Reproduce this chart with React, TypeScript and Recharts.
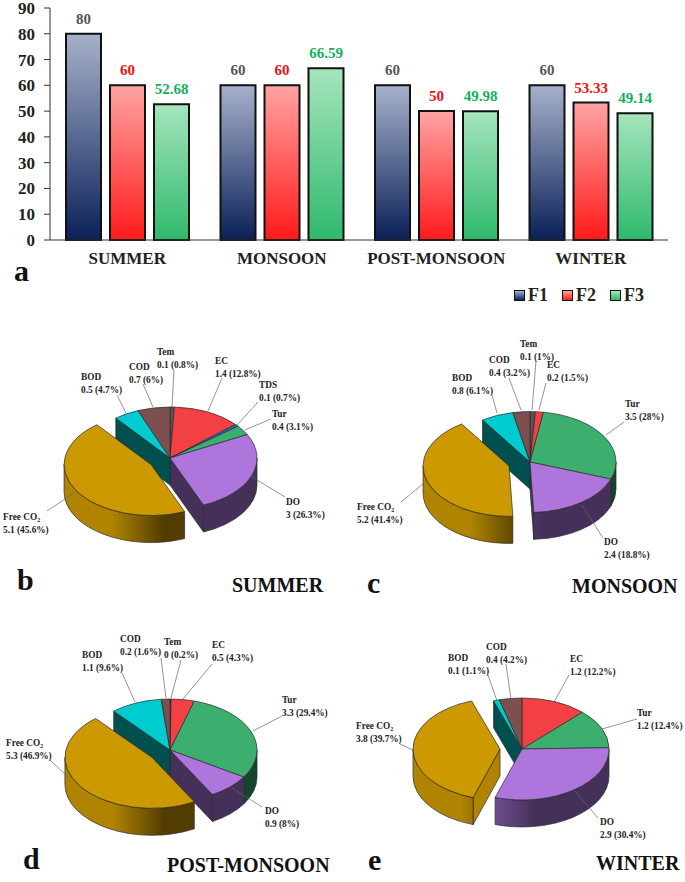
import React from 'react';
import { Bar, BarChart, LabelList, Legend, Pie, PieChart, XAxis, YAxis } from 'recharts';

const FONT = '"Liberation Serif", serif';

// panel a
const seasons = ['SUMMER', 'MONSOON', 'POST-MONSOON', 'WINTER'];
const f1Values = [80, 60, 60, 60];
const f2Values = [60, 60, 50, 53.33];
const f3Values = [52.68, 66.59, 49.98, 49.14];
const yTicks = [0, 10, 20, 30, 40, 50, 60, 70, 80, 90];

// panels b-e
const summerNames = ['Tem', 'EC', 'TDS', 'Tur', 'DO', 'Free CO2', 'BOD', 'COD'];
const summerAmounts = [0.1, 1.4, 0.1, 0.4, 3, 5.1, 0.5, 0.7];
const summerShares = [0.8, 12.8, 0.7, 3.1, 26.3, 45.6, 4.7, 6];

const monsoonNames = ['Tem', 'EC', 'Tur', 'DO', 'Free CO2', 'BOD', 'COD'];
const monsoonAmounts = [0.1, 0.2, 3.5, 2.4, 5.2, 0.8, 0.4];
const monsoonShares = [1, 1.5, 28, 18.8, 41.4, 6.1, 3.2];

const postNames = ['Tem', 'EC', 'Tur', 'DO', 'Free CO2', 'BOD', 'COD'];
const postAmounts = [0, 0.5, 3.3, 0.9, 5.3, 1.1, 0.2];
const postShares = [0.2, 4.3, 29.4, 8, 46.9, 9.6, 1.6];

const winterNames = ['EC', 'Tur', 'DO', 'Free CO2', 'BOD', 'COD'];
const winterAmounts = [1.2, 1.2, 2.9, 3.8, 0.1, 0.4];
const winterShares = [12.2, 12.4, 30.4, 39.7, 1.1, 4.2];

// text x, first baseline, leader x1, y1, x2, y2
const summerLabels = [
  [157, 355, 174, 370, 172, 407],
  [215, 364, 222, 378, 208, 411],
  [259, 388, 258, 402, 237, 425],
  [272, 417, 271, 419, 245, 430],
  [286, 505, 285, 497, 252, 477],
  [3, 520, 47, 511, 74, 493],
  [81, 380, 117, 395, 126, 413],
  [129, 370, 143, 384, 153, 407],
];
const monsoonLabels = [
  [520, 347, 536, 361, 532, 410],
  [547, 368, 546, 383, 539, 410],
  [625, 407, 624, 422, 606, 435],
  [604, 545, 603, 538, 582, 505],
  [357, 510, 401, 502, 423, 484],
  [452, 381, 492, 395, 497, 413],
  [489, 363, 509, 378, 521, 410],
];
const postLabels = [
  [164, 645, 181, 660, 171, 698],
  [212, 648, 212, 664, 183, 699],
  [282, 703, 282, 716, 253, 731],
  [265, 814, 262, 807, 232, 788],
  [6, 746, 50, 760, 68, 777],
  [82, 658, 122, 673, 135, 702],
  [120, 642, 161, 658, 166, 698],
];
const winterLabels = [
  [570, 662, 569, 675, 554, 702],
  [637, 716, 637, 719, 602, 729],
  [600, 825, 598, 818, 575, 791],
  [356, 729, 400, 744, 413, 750],
  [448, 661, 488, 675, 497, 701],
  [486, 650, 506, 664, 511, 699],
];

const TOP_COLORS: Record<string, string> = {
  Tem: '#555555',
  EC: '#f24044',
  TDS: '#1e6fd0',
  Tur: '#3cae6e',
  DO: '#ae76dc',
  'Free CO2': '#cc9900',
  BOD: '#00ccd0',
  COD: '#7d4f4f',
};
const WALL_LIGHT: Record<string, string> = {
  Tem: '#333333',
  EC: '#8a2224',
  TDS: '#0f3a70',
  Tur: '#13472c',
  DO: '#7a55a0',
  'Free CO2': '#b08400',
  BOD: '#005050',
  COD: '#4a2f2f',
};
const WALL_DARK: Record<string, string> = { ...WALL_LIGHT, DO: '#45305a', 'Free CO2': '#523c00' };
const SIDE_COLORS: Record<string, string> = { ...WALL_LIGHT, DO: '#45305a' };

const SQUASH = 0.586;
const DEPTH = 27;
const EXPLODE = 22;
const EXPLODED = 'Free CO2';

const rad = (deg: number) => (deg * Math.PI) / 180;

function rimPoint(x: number, y: number, r: number, deg: number) {
  return [x + r * Math.cos(rad(deg)), y - r * SQUASH * Math.sin(rad(deg))];
}

function apexOf(props: any) {
  const { cx, cy, startAngle, endAngle, payload } = props;
  if (payload.name !== EXPLODED) return [cx, cy];
  const mid = (startAngle + endAngle) / 2;
  return [cx + EXPLODE * Math.cos(rad(mid)), cy - EXPLODE * SQUASH * Math.sin(rad(mid))];
}

function sliceTop(props: any) {
  const { outerRadius: r, startAngle, endAngle, payload } = props;
  const [ax, ay] = apexOf(props);
  const [x0, y0] = rimPoint(ax, ay, r, startAngle);
  const [x1, y1] = rimPoint(ax, ay, r, endAngle);
  const large = startAngle - endAngle > 180 ? 1 : 0;
  return (
    <path
      d={`M${ax},${ay}L${x0},${y0}A${r},${r * SQUASH} 0 ${large} 1 ${x1},${y1}Z`}
      fill={TOP_COLORS[payload.name]}
      stroke="#2a2a2a"
      strokeWidth={0.7}
      strokeLinejoin="round"
    />
  );
}

function sliceWall(props: any) {
  const { outerRadius: r, startAngle, endAngle, payload } = props;
  const [ax, ay] = apexOf(props);
  const name = payload.name;
  const id = `wall-${payload.season}-${name.replace(' ', '')}`;
  const parts: React.ReactNode[] = [];

  // side faces only show next to the pulled-out slice
  const side = (deg: number) => {
    const [x, y] = rimPoint(ax, ay, r, deg);
    parts.push(
      <path
        key={`side${deg}`}
        d={`M${ax},${ay}L${x},${y}L${x},${y + DEPTH}L${ax},${ay + DEPTH}Z`}
        fill={SIDE_COLORS[name]}
        stroke="#2a2a2a"
        strokeWidth={0.7}
      />,
    );
  };
  const isOut = name === EXPLODED;
  if ((isOut || payload.afterExploded) && Math.cos(rad(startAngle)) < 0) side(startAngle);
  if ((isOut || payload.beforeExploded) && Math.cos(rad(endAngle)) > 0) side(endAngle);

  // curved wall, front half of the rim only
  const hi = Math.min(startAngle, 0);
  const lo = Math.max(endAngle, -180);
  if (hi > lo) {
    const [x0, y0] = rimPoint(ax, ay, r, hi);
    const [x1, y1] = rimPoint(ax, ay, r, lo);
    const ry = r * SQUASH;
    parts.push(
      <linearGradient key="grad" id={id} gradientUnits="userSpaceOnUse" x1={ax - r * 0.45} x2={ax + r * 0.15} y1={0} y2={0}>
        <stop offset="0%" stopColor={WALL_LIGHT[name]} />
        <stop offset="100%" stopColor={WALL_DARK[name]} />
      </linearGradient>,
      <path
        key="arc"
        d={`M${x0},${y0}A${r},${ry} 0 0 1 ${x1},${y1}L${x1},${y1 + DEPTH}A${r},${ry} 0 0 0 ${x0},${y0 + DEPTH}Z`}
        fill={`url(#${id})`}
        stroke="#2a2a2a"
        strokeWidth={0.7}
      />,
    );
  }
  return <g>{parts}</g>;
}

function makeLabel(layout: number[][]) {
  return (props: any) => {
    const [tx, ty, x1, y1, x2, y2] = layout[props.index];
    const { name, amount, share } = props.payload;
    const style = { fontFamily: FONT, fontSize: 9.3, fontWeight: 700, fill: '#222' };
    return (
      <g>
        <line x1={x1} y1={y1} x2={x2} y2={y2} stroke="#666" strokeWidth={0.7} />
        <text x={tx} y={ty} style={style}>
          {name === EXPLODED ? (
            <>
              Free CO
              <tspan dy={2} fontSize={6}>
                2
              </tspan>
            </>
          ) : (
            name
          )}
        </text>
        <text x={tx} y={ty + 12.5} style={style}>{`${amount} (${share}%)`}</text>
      </g>
    );
  };
}

function buildSlices(season: string, names: string[], amounts: number[], shares: number[]) {
  const out = names.indexOf(EXPLODED);
  return names.map((name, i) => ({
    season,
    name,
    amount: amounts[i],
    share: shares[i],
    beforeExploded: i === out - 1,
    afterExploded: i === out + 1,
  }));
}

const pies = [
  { key: 'b', cx: 170, cy: 458, r: 87, data: buildSlices('summer', summerNames, summerAmounts, summerShares), labels: summerLabels },
  { key: 'c', cx: 530, cy: 462, r: 86, data: buildSlices('monsoon', monsoonNames, monsoonAmounts, monsoonShares), labels: monsoonLabels },
  { key: 'd', cx: 170, cy: 750, r: 87, data: buildSlices('post', postNames, postAmounts, postShares), labels: postLabels },
  { key: 'e', cx: 522, cy: 749, r: 87, data: buildSlices('winter', winterNames, winterAmounts, winterShares), labels: winterLabels },
];

const barData = seasons.map((season, i) => ({ season, F1: f1Values[i], F2: f2Values[i], F3: f3Values[i] }));

const BAR_STYLES: Record<string, { top: string; bottom: string; label: string }> = {
  F1: { top: '#a6b1ca', bottom: '#0a2058', label: '#555555' },
  F2: { top: '#ffa3a3', bottom: '#ff1a1a', label: '#ee1111' },
  F3: { top: '#a5e5bd', bottom: '#2fb96c', label: '#12b05c' },
};

function BarLegend({ payload }: any) {
  return (
    <div style={{ display: 'flex', fontFamily: FONT, fontWeight: 700, fontSize: 18, color: '#222' }}>
      {(payload ?? []).map((item: any) => {
        const s = BAR_STYLES[item.value];
        return (
          <div key={item.value} style={{ display: 'flex', alignItems: 'center', width: 48 }}>
            <span
              style={{
                width: 9,
                height: 9,
                marginRight: 3,
                border: '1.5px solid #111',
                background: `linear-gradient(${s.top}, ${s.bottom})`,
              }}
            />
            {item.value}
          </div>
        );
      })}
    </div>
  );
}

// panel letters and titles: text, x, baseline
const panelLetters: [string, number, number][] = [
  ['a', 14, 281],
  ['b', 17, 590],
  ['c', 367, 593],
  ['d', 23, 869],
  ['e', 368, 870],
];
const panelTitles: [string, number, number][] = [
  ['SUMMER', 232, 592],
  ['MONSOON', 572, 593],
  ['POST-MONSOON', 167, 872],
  ['WINTER', 596, 870],
];

export default function App() {
  return (
    <div style={{ position: 'absolute', left: 0, top: 0, width: 685, height: 882, background: '#fff' }}>
      <div style={{ position: 'absolute', left: 0, top: 0 }}>
        <BarChart
          width={685}
          height={310}
          data={barData}
          margin={{ top: 8, right: 17, left: 0, bottom: 40 }}
          barSize={35}
          barGap={9}
        >
          <defs>
            {Object.entries(BAR_STYLES).map(([k, s]) => (
              <linearGradient key={k} id={`bar-${k}`} x1="0" y1="0" x2="0" y2="1">
                <stop offset="0%" stopColor={s.top} />
                <stop offset="100%" stopColor={s.bottom} />
              </linearGradient>
            ))}
          </defs>
          <XAxis
            dataKey="season"
            interval={0}
            tickLine={false}
            stroke="#333"
            height={30}
            tickMargin={6}
            tick={{ fontFamily: FONT, fontSize: 17, fontWeight: 700, fill: '#222' }}
          />
          <YAxis
            width={50}
            domain={[0, 90]}
            ticks={yTicks}
            interval={0}
            stroke="#333"
            tickSize={6}
            tickMargin={9}
            tick={{ fontFamily: FONT, fontSize: 17, fontWeight: 700, fill: '#222' }}
          />
          <Legend
            layout="horizontal"
            verticalAlign="middle"
            align="center"
            wrapperStyle={{ left: 514, top: 285, width: 160 }}
            content={<BarLegend />}
          />
          {['F1', 'F2', 'F3'].map((key) => (
            <Bar
              key={key}
              dataKey={key}
              fill={`url(#bar-${key})`}
              stroke="#111"
              strokeWidth={2}
              isAnimationActive={false}
            >
              <LabelList
                dataKey={key}
                position="top"
                offset={10}
                style={{ fontFamily: FONT, fontSize: 15, fontWeight: 700, fill: BAR_STYLES[key].label }}
              />
            </Bar>
          ))}
        </BarChart>
      </div>

      <div style={{ position: 'absolute', left: 0, top: 0 }}>
        <PieChart width={685} height={882} margin={{ top: 0, right: 0, bottom: 0, left: 0 }}>
          {pies.flatMap((p) => [
            <Pie
              key={`${p.key}-walls`}
              data={p.data}
              dataKey="share"
              nameKey="name"
              cx={p.cx}
              cy={p.cy}
              innerRadius={0}
              outerRadius={p.r}
              startAngle={90}
              endAngle={-270}
              shape={sliceWall}
              isAnimationActive={false}
            />,
            <Pie
              key={`${p.key}-tops`}
              data={p.data}
              dataKey="share"
              nameKey="name"
              cx={p.cx}
              cy={p.cy}
              innerRadius={0}
              outerRadius={p.r}
              startAngle={90}
              endAngle={-270}
              shape={sliceTop}
              label={makeLabel(p.labels)}
              labelLine={false}
              isAnimationActive={false}
            />,
          ])}
        </PieChart>
      </div>

      <svg width={685} height={882} style={{ position: 'absolute', left: 0, top: 0, pointerEvents: 'none' }}>
        {panelLetters.map(([t, x, y]) => (
          <text key={t} x={x} y={y} fontFamily={FONT} fontSize={30} fontWeight={700} fill="#111">
            {t}
          </text>
        ))}
        {panelTitles.map(([t, x, y]) => (
          <text key={t} x={x} y={y} fontFamily={FONT} fontSize={20} fontWeight={700} fill="#111">
            {t}
          </text>
        ))}
      </svg>
    </div>
  );
}
